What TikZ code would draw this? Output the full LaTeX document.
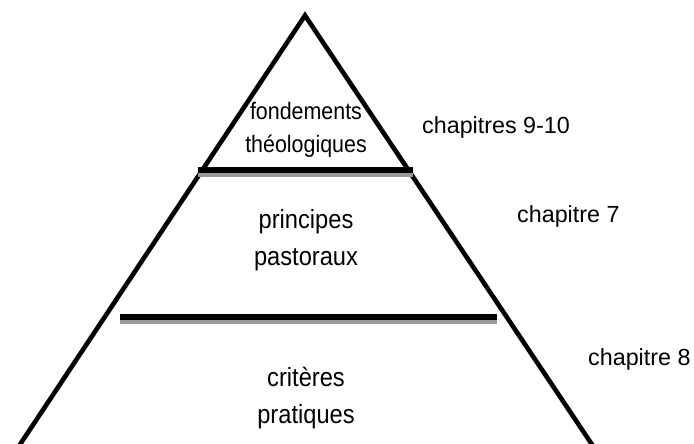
\documentclass[tikz,border=0pt]{standalone}
\usepackage{fontspec}
\setmainfont{Liberation Sans}
\newfontfamily\narrowsans[FakeStretch=0.9]{Liberation Sans}
\begin{document}
\begin{tikzpicture}[x=1pt,y=-1pt,
  edge/.style={line width=4.6pt,line join=miter,miter limit=10},
  rule/.style={line width=5.5pt},
  ruleshade/.style={line width=3.6pt,draw=gray!80!white},
  layer/.style={inner sep=0pt,align=center,anchor=base},
  topfont/.style={font=\narrowsans\fontsize{23.8}{33}\selectfont},
  midfont/.style={font=\narrowsans\fontsize{26.3}{37}\selectfont},
  chap/.style={inner sep=0pt,anchor=base west,font=\fontsize{23.3}{28}\selectfont}]
\useasboundingbox (0,0) rectangle (694,444);

% pyramid outline, running off the bottom edge
\coordinate (apex) at (305,15.5);
\coordinate (bl) at (17,449);
\coordinate (br) at (595,449);
\draw[edge] (bl) -- (apex) -- (br);

% dividing rules with their shading underneath
\coordinate (r1a) at (198,175);
\coordinate (r1b) at (413,175);
\coordinate (r1c) at (198,170);
\coordinate (r1d) at (413,170);
\draw[ruleshade] (r1a) -- (r1b);
\draw[rule] (r1c) -- (r1d);

\coordinate (r2a) at (120,322);
\coordinate (r2b) at (497,322);
\coordinate (r2c) at (120,317);
\coordinate (r2d) at (497,317);
\draw[ruleshade] (r2a) -- (r2b);
\draw[rule] (r2c) -- (r2d);

% layer texts (base anchor sits on the last line)
\node[layer,topfont] (top) at (306,153) {fondements\\théologiques};
\node[layer,midfont] (mid) at (306,265) {principes\\pastoraux};
\node[layer,midfont] (bot) at (306,423) {critères\\pratiques};

% chapter references
\node[chap] (c1) at (422,133) {chapitres 9-10};
\node[chap] (c2) at (517,222) {chapitre 7};
\node[chap] (c3) at (588,365) {chapitre 8};
\end{tikzpicture}
\end{document}
